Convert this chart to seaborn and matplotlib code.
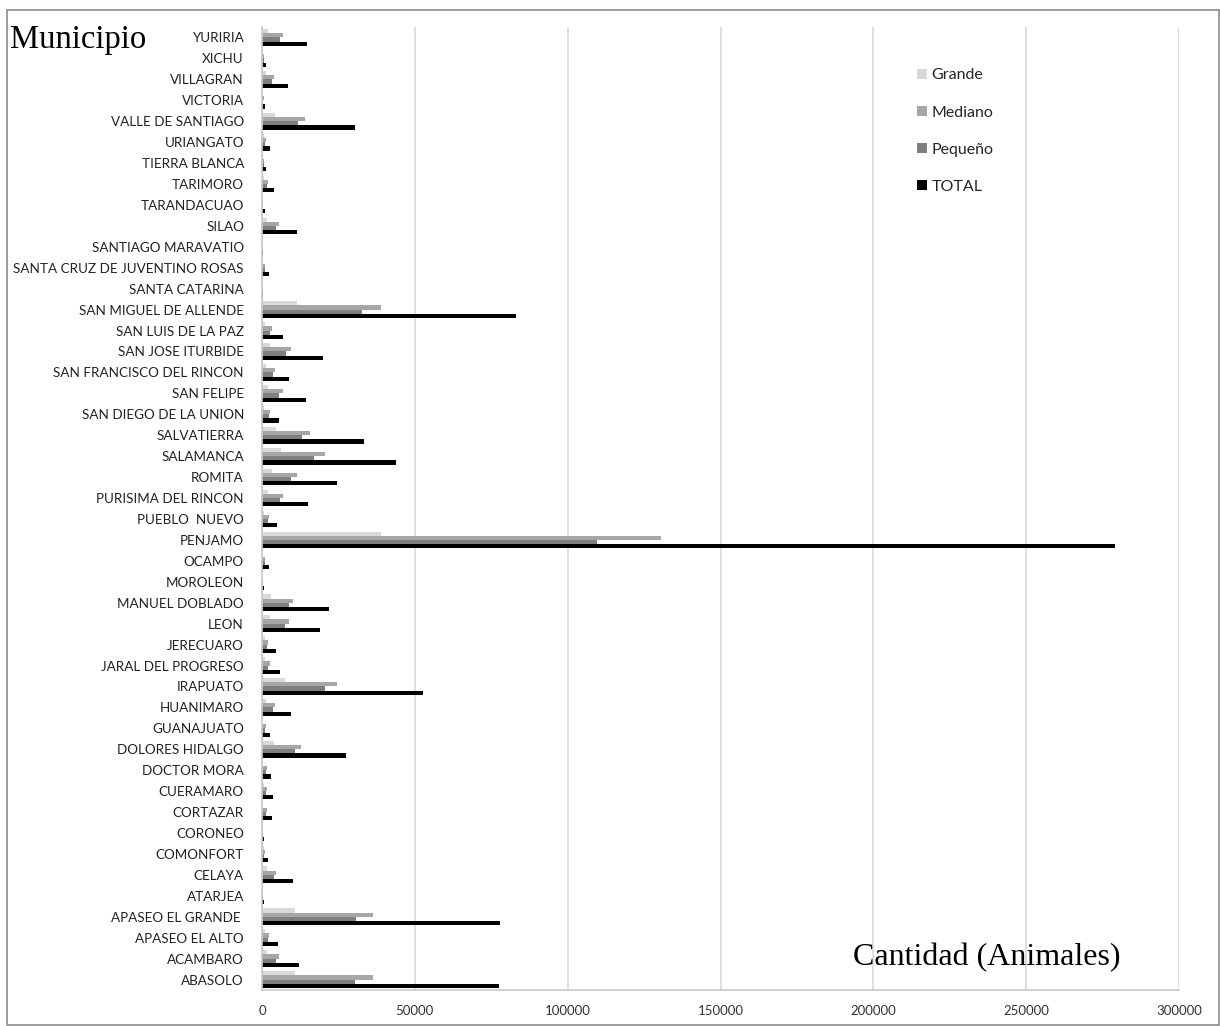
import matplotlib
matplotlib.use("Agg")
import matplotlib.pyplot as plt
import seaborn as sns
import pandas as pd
import numpy as np
from matplotlib.patches import Rectangle

municipios = [
    "YURIRIA", "XICHU", "VILLAGRAN", "VICTORIA", "VALLE DE SANTIAGO", "URIANGATO",
    "TIERRA BLANCA", "TARIMORO", "TARANDACUAO", "SILAO", "SANTIAGO MARAVATIO",
    "SANTA CRUZ DE JUVENTINO ROSAS", "SANTA CATARINA", "SAN MIGUEL DE ALLENDE",
    "SAN LUIS DE LA PAZ", "SAN JOSE ITURBIDE", "SAN FRANCISCO DEL RINCON", "SAN FELIPE",
    "SAN DIEGO DE LA UNION", "SALVATIERRA", "SALAMANCA", "ROMITA", "PURISIMA DEL RINCON",
    "PUEBLO  NUEVO", "PENJAMO", "OCAMPO", "MOROLEON", "MANUEL DOBLADO", "LEON",
    "JERECUARO", "JARAL DEL PROGRESO", "IRAPUATO", "HUANIMARO", "GUANAJUATO",
    "DOLORES HIDALGO", "DOCTOR MORA", "CUERAMARO", "CORTAZAR", "CORONEO", "COMONFORT",
    "CELAYA", "ATARJEA", "APASEO EL GRANDE ", "APASEO EL ALTO", "ACAMBARO", "ABASOLO",
]

grande = [2000, 300, 1300, 200, 4300, 500, 200, 500, 150, 1500, 50, 300, 30, 11600,
          1000, 2700, 1200, 1900, 600, 4600, 6100, 3300, 2000, 700, 39000, 400, 100,
          2900, 2500, 900, 1100, 7400, 1300, 400, 3800, 400, 800, 400, 100, 500, 1700,
          80, 10700, 900, 1600, 10700]
mediano = [7000, 600, 4000, 500, 14100, 1200, 600, 1900, 450, 5400, 150, 1100, 100, 38900,
           3300, 9500, 4100, 6900, 2700, 15700, 20500, 11500, 7000, 2400, 130400, 1100, 300,
           10300, 8800, 1900, 2600, 24500, 4400, 1200, 12900, 1500, 1600, 1600, 300, 900, 4700,
           200, 36400, 2400, 5600, 36400]
pequeno = [5800, 500, 3300, 400, 11900, 1000, 600, 1600, 400, 4600, 100, 900, 80, 32800,
           2700, 7900, 3500, 5700, 2300, 13100, 17000, 9600, 5900, 1900, 109700, 900, 250,
           8700, 7400, 1600, 2000, 20700, 3700, 1000, 10900, 1200, 1300, 1300, 250, 700, 3800,
           200, 30600, 2000, 4600, 30300]
total = [14800, 1400, 8600, 1100, 30300, 2700, 1400, 4000, 1000, 11500, 300, 2300, 200, 83200,
         7000, 20100, 8800, 14500, 5600, 33400, 43900, 24700, 15100, 5000, 279000, 2400, 650,
         21900, 19100, 4500, 5800, 52700, 9400, 2600, 27500, 3100, 3700, 3300, 650, 2100, 10300,
         500, 77900, 5300, 12200, 77600]

series_names = ["Grande", "Mediano", "Pequeño", "TOTAL"]
series_colors = ["#d9d9d9", "#a6a6a6", "#7f7f7f", "#000000"]

df = pd.DataFrame({
    "Municipio": municipios * 4,
    "Serie": sum([[s] * len(municipios) for s in series_names], []),
    "Cantidad": grande + mediano + pequeno + total,
})

sns.set_style("white")
plt.rcParams["font.family"] = ["Lato", "DejaVu Sans"]

W, H = 1220, 1026
fig = plt.figure(figsize=(W / 100, H / 100), dpi=100)
ax = fig.add_axes([262 / W, 1 - 990 / H, (1179 - 262) / W, (990 - 27) / H])

sns.barplot(data=df, y="Municipio", x="Cantidad", hue="Serie", order=municipios,
            hue_order=series_names, palette=series_colors, orient="h", width=0.8,
            saturation=1, linewidth=0, errorbar=None, ax=ax)

ax.set_xlim(0, 300000)
ax.set_xticks(np.arange(0, 300001, 50000))
ax.set_xticklabels([str(v) for v in range(0, 300001, 50000)], fontsize=9.5, color="#333333")
ax.set_ylim(len(municipios) - 0.5, -0.5)
ax.set_yticks(range(len(municipios)))
ax.set_yticklabels(municipios, fontsize=9.7, color="#222222")
ax.set_yticks(np.arange(-0.5, len(municipios), 1), minor=True)
ax.tick_params(axis="y", which="major", length=0, pad=13)
ax.tick_params(axis="y", which="minor", length=5, color="#bfbfbf", width=1, direction="out")
ax.tick_params(axis="x", which="major", length=0, pad=11)
ax.set_xlabel("")
ax.set_ylabel("")

ax.grid(axis="x", color="#d9d9d9", linewidth=1.2)
ax.set_axisbelow(True)
for side in ["top", "right"]:
    ax.spines[side].set_visible(False)
for side in ["left", "bottom"]:
    ax.spines[side].set_color("#c8c8c8")
    ax.spines[side].set_linewidth(1.2)

handles, labels = ax.get_legend_handles_labels()
ax.legend(handles, labels, loc="upper left", bbox_to_anchor=(903 / W, 1 - 54 / H),
          bbox_transform=fig.transFigure, frameon=False, fontsize=11.5,
          handlelength=0.6, handleheight=0.6, handletextpad=0.3, labelspacing=1.45)

fig.text(10 / W, 1 - 40 / H, "Municipio", fontsize=23.5, family="Liberation Serif",
         ha="left", va="center", color="black")
fig.text(853 / W, 1 - 958 / H, "Cantidad (Animales)", fontsize=23,
         family="Liberation Serif", ha="left", va="center", color="black")

fig.patches.append(Rectangle((7 / W, 1 / H), (W - 8) / W, (H - 11) / H,
                             transform=fig.transFigure, fill=False,
                             edgecolor="#8c8c8c", linewidth=1.2))

fig.savefig("out.png", dpi=100, facecolor="white")
